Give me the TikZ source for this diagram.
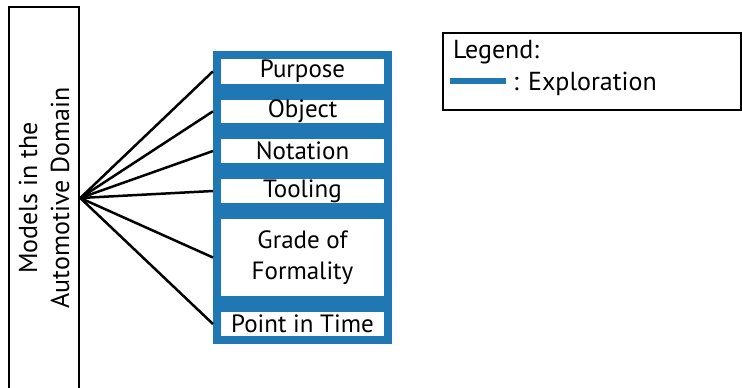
\documentclass[tikz,border=0pt]{standalone}
\usepackage{fontspec}
\setmainfont{PT Sans}
\definecolor{expblue}{RGB}{31,119,180}
\begin{document}
\begin{tikzpicture}[x=1pt,y=-1pt,
  cell/.style={draw=expblue,line width=8pt,fill=white,minimum width=171pt,inner sep=0pt,font=\fontsize{25}{31}\selectfont,align=center},
  conn/.style={line width=2.5pt,black},
  txt/.style={font=\fontsize{26}{32}\selectfont,inner sep=0pt}]
\useasboundingbox (0,0) rectangle (742,388);
\fill[white] (0,0) rectangle (742,388);
% main box
\node[draw,line width=2.5pt,minimum width=70pt,minimum height=382pt,inner sep=0pt] (main) at (44,198) {};
\node[txt,rotate=90,align=center] (maintxt) at (main.center) {Models in the\\Automotive Domain};
% cells
\node[cell,minimum height=32.7pt] (c1) at (302.5,71.3) {Purpose};
\node[cell,minimum height=31.3pt] (c2) at (302.5,111.3) {Object};
\node[cell,minimum height=32pt] (c3) at (302.5,151) {Notation};
\node[cell,minimum height=32pt] (c4) at (302.5,191) {Tooling};
\node[cell,minimum height=85pt] (c5) at (302.5,257.5) {Grade of\\Formality};
\node[cell,minimum height=32pt] (c6) at (302.5,324) {Point in Time};
% connectors
\foreach \c in {c1,c2,c3,c4,c5,c6}{\draw[conn] (main.east) -- (\c.west);}
% legend
\node[draw,line width=2.5pt,minimum width=298pt,minimum height=77pt,inner sep=0pt] (legend) at (592,71.5) {};
\node[txt,anchor=west] (legtitle) at (453,52) {Legend:};
\coordinate (lgA) at (450,81);
\coordinate (lgB) at (506,81);
\draw[expblue,line width=6pt] (lgA) -- (lgB);
\node[txt,anchor=west] (legexp) at (513,84) {: Exploration};
\end{tikzpicture}
\end{document}
